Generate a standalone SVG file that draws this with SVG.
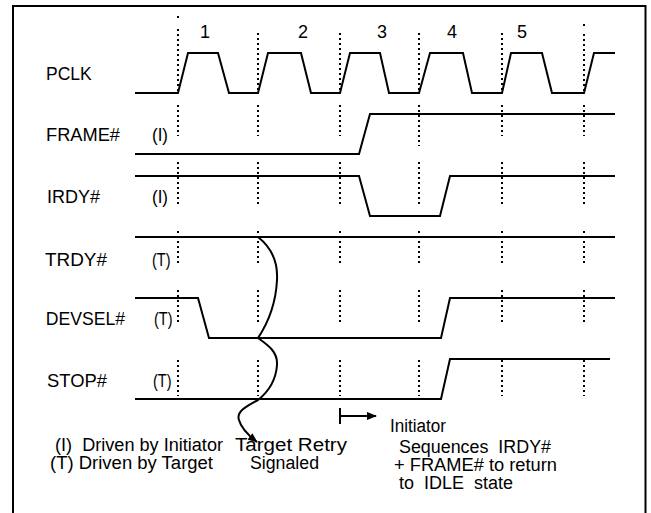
<svg xmlns="http://www.w3.org/2000/svg" width="651" height="513" viewBox="0 0 651 513">
<style>
text{font-family:"Liberation Sans",Arial,sans-serif;font-size:18px;fill:#000;white-space:pre}
.sig{fill:none;stroke:#000;stroke-width:2}
.dot{fill:none;stroke:#000;stroke-width:2;stroke-dasharray:2,3}
.num{text-anchor:middle}
</style>
<defs>
<marker id="ah" viewBox="0 0 10 8" refX="9" refY="4" markerWidth="10" markerHeight="8" orient="auto" markerUnits="userSpaceOnUse">
<path d="M0,0 L10,4 L0,8 z" fill="#000"/>
</marker>
</defs>
<rect x="13" y="6" width="632.5" height="512" fill="#fff" stroke="#000" stroke-width="2"/>

<g id="gridlines">
<path class="dot" d="M178,16 V21 M178,29 V93 M178,105 V136 M178,162 V204 M178,231 V266 M178,290 V323 M178,360 V396"/>
<path class="dot" d="M258,33 V93 M258,105 V136 M258,162 V204 M258,231 V266 M258,290 V323 M258,360 V396"/>
<path class="dot" d="M340,33 V93 M340,105 V136 M340,162 V204 M340,231 V266 M340,290 V323 M340,360 V396"/>
<path class="dot" d="M419,33 V93 M419,105 V146 M419,162 V204 M419,231 V266 M419,290 V323 M419,360 V396"/>
<path class="dot" d="M502,33 V93 M502,105 V136 M502,162 V204 M502,231 V266 M502,290 V323 M502,360 V396"/>
<path class="dot" d="M584,24 V29 M584,34 V93 M584,105 V136 M584,162 V204 M584,231 V266 M584,290 V323 M584,360 V396"/>
</g>

<g id="cycle-numbers">
<text class="num" x="205" y="38">1</text>
<text class="num" x="303" y="38">2</text>
<text class="num" x="382" y="38">3</text>
<text class="num" x="452" y="38">4</text>
<text class="num" x="522" y="38">5</text>
</g>

<g id="PCLK">
<text x="46" y="80" textLength="45.7" lengthAdjust="spacingAndGlyphs">PCLK</text>
<path class="sig" d="M135,93 H178 L188,53 H218 L229,93 H258 L268,53 H301 L311,93 H340 L350,53 H380 L389,93 H419 L430,53 H463 L472,93 H502 L511,53 H542 L552,93 H584 L594,53 H615"/>
</g>

<g id="FRAME">
<text x="46" y="141" textLength="74" lengthAdjust="spacingAndGlyphs">FRAME#</text>
<text x="152" y="141" textLength="16" lengthAdjust="spacingAndGlyphs">(I)</text>
<path class="sig" d="M135,154 H359 L370,114 H615"/>
</g>

<g id="IRDY">
<text x="47" y="203" textLength="53" lengthAdjust="spacingAndGlyphs">IRDY#</text>
<text x="152" y="203" textLength="16" lengthAdjust="spacingAndGlyphs">(I)</text>
<path class="sig" d="M135,176 H359 L370,216 H440 L450,176 H615"/>
</g>

<g id="TRDY">
<text x="45" y="265.5" textLength="62" lengthAdjust="spacingAndGlyphs">TRDY#</text>
<text x="152" y="265.5" textLength="18.5" lengthAdjust="spacingAndGlyphs">(T)</text>
<path class="sig" d="M135,237 H615"/>
</g>

<g id="DEVSEL">
<text x="45.7" y="325.3" textLength="79.3" lengthAdjust="spacingAndGlyphs">DEVSEL#</text>
<text x="154" y="325.3" textLength="18.5" lengthAdjust="spacingAndGlyphs">(T)</text>
<path class="sig" d="M135,298 H198 L209,338 H441 L450,298 H615"/>
</g>

<g id="STOP">
<text x="47" y="386.7" textLength="60" lengthAdjust="spacingAndGlyphs">STOP#</text>
<text x="153" y="386.7" textLength="18.5" lengthAdjust="spacingAndGlyphs">(T)</text>
<path class="sig" d="M135,399 H441 L450,359 H610"/>
</g>

<g id="connectors">
<path class="sig" marker-end="url(#ah)" d="M258,237 C272,248 278,262 277,280 C276,300 270,320 258,338 C268,345 278,352 277,365 C276,380 268,392 258,400 C246,406 236,412 239,420 C241,428 248,435 257,442"/>
<path class="sig" d="M340,408 V424"/>
<path class="sig" marker-end="url(#ah)" d="M340,416 H376"/>
</g>

<g id="legend">
<text x="55" y="451" textLength="168" lengthAdjust="spacingAndGlyphs">(I)  Driven by Initiator</text>
<text x="50" y="469" textLength="163" lengthAdjust="spacingAndGlyphs">(T) Driven by Target</text>
</g>

<g id="retry-note">
<text x="235" y="451" textLength="112" lengthAdjust="spacingAndGlyphs">Target Retry</text>
<text x="250" y="469" textLength="69" lengthAdjust="spacingAndGlyphs">Signaled</text>
</g>

<g id="initiator-note">
<text x="390" y="431.5" textLength="56" lengthAdjust="spacingAndGlyphs">Initiator</text>
<text x="399" y="452.5" textLength="152" lengthAdjust="spacingAndGlyphs">Sequences  IRDY#</text>
<text x="394" y="470.5" textLength="163" lengthAdjust="spacingAndGlyphs">+ FRAME# to return</text>
<text x="399" y="488.5" textLength="114" lengthAdjust="spacingAndGlyphs">to  IDLE  state</text>
</g>
</svg>
